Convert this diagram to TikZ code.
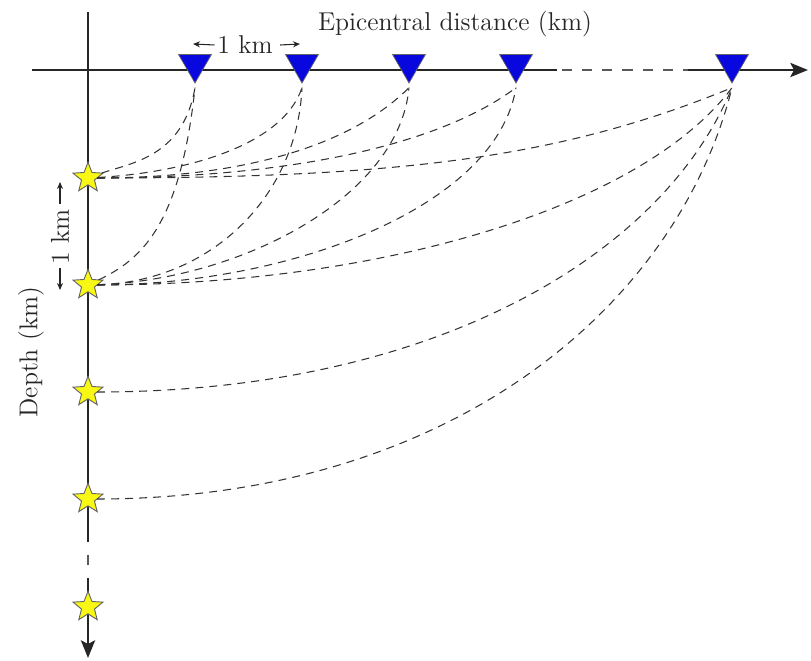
\documentclass[tikz,border=0pt]{standalone}
\usepackage{tikz}
\usetikzlibrary{arrows.meta,shapes.geometric}
\definecolor{stationblue}{RGB}{8,8,222}
\definecolor{quakeyellow}{RGB}{248,248,20}
\tikzset{
  axis/.style={line width=1.1pt,black!85},
  gap/.style={line width=0.7pt,black!65,dash pattern=on 4.3pt off 4.3pt},
  ray/.style={line width=0.45pt,black!80,dash pattern=on 3.4pt off 2.6pt},
  dim/.style={line width=0.45pt,black!85,-{Stealth[length=3pt,width=2.6pt]}},
  lbl/.style={font=\fontsize{11}{13}\selectfont,text=black!85,inner sep=1pt},
  station/.style={regular polygon,regular polygon sides=3,shape border rotate=180,
    fill=stationblue,draw=black!60,line width=0.3pt,inner sep=0pt,outer sep=0pt,minimum size=0.57cm},
  quake/.style={star,star points=5,star point ratio=2.3,fill=quakeyellow,draw=black!60,
    line width=0.4pt,inner sep=0pt,outer sep=0pt,minimum size=0.47cm},
}
\begin{document}
\begin{tikzpicture}[x=0.015cm,y=-0.015cm]
  \useasboundingbox (0,0) rectangle (811,661);
  % axes
  \draw[axis] (32,70) -- (557,70);
  \draw[gap] (562,70) -- (688,70);
  \draw[axis,-{Stealth[length=7.5pt,width=6pt,inset=1.5pt]}] (688,70) -- (808,70);
  \draw[axis] (88,12) -- (88,542);
  \draw[gap] (88,555) -- (88,565);
  \draw[axis,-{Stealth[length=7.5pt,width=6pt,inset=1.5pt]}] (88,578) -- (88,658);

  % stations and sources
  \foreach \x [count=\i] in {195,302,409,516,732} {
    \node[station] (r\i) at (\x,64) {};
    \coordinate (t\i) at ([yshift=-2pt]r\i.corner 1);
  }
  \foreach \y [count=\i] in {178,285,392,499,607}
    \node[quake] (q\i) at (88,\y) {};

  % rays from the first source
  \draw[ray] (q1) .. controls +(42,-15) and +(-12,70) .. (t1);
  \draw[ray] (q1) .. controls +(92,-5) and +(-20,60) .. (t2);
  \draw[ray] (q1) .. controls +(162,0) and +(-55,55) .. (t3);
  \draw[ray] (q1) .. controls +(192,0) and +(-80,60) .. (t4);
  \draw[ray] (q1) .. controls +(312,0) and +(-170,70) .. (t5);
  % rays from the second source
  \draw[ray] (q2) .. controls +(52,-25) and +(-15,140) .. (t1);
  \draw[ray] (q2) .. controls +(122,-3) and +(-5,110) .. (t2);
  \draw[ray] (q2) .. controls +(152,-5) and +(-10,110) .. (t3);
  \draw[ray] (q2) .. controls +(202,0) and +(-20,120) .. (t4);
  \draw[ray] (q2) .. controls +(292,0) and +(-90,120) .. (t5);
  % deeper sources, far station only
  \draw[ray] (q3) .. controls +(342,0) and +(-70,170) .. (t5);
  \draw[ray] (q4) .. controls +(361,0) and +(-55,220) .. (t5);

  % labels
  \node[lbl] (xlab) at (455,24) {Epicentral distance (km)};
  \node[lbl] (dx) at (245,45) {1 km};
  \coordinate (dxl) at (193,44);
  \coordinate (dxr) at (300,44);
  \draw[dim] (dx.west) -- (dxl);
  \draw[dim] ([xshift=2pt]dx.east) -- (dxr);
  \node[lbl,rotate=90] (zlab) at (31,352) {Depth (km)};
  \node[lbl,rotate=90] (dz) at (60,237) {1 km};
  \coordinate (dzt) at (60,182);
  \coordinate (dzb) at (60,290);
  \draw[dim] ([yshift=1pt]dz.east) -- (dzt);
  \draw[dim] (dz.west) -- (dzb);
\end{tikzpicture}
\end{document}
